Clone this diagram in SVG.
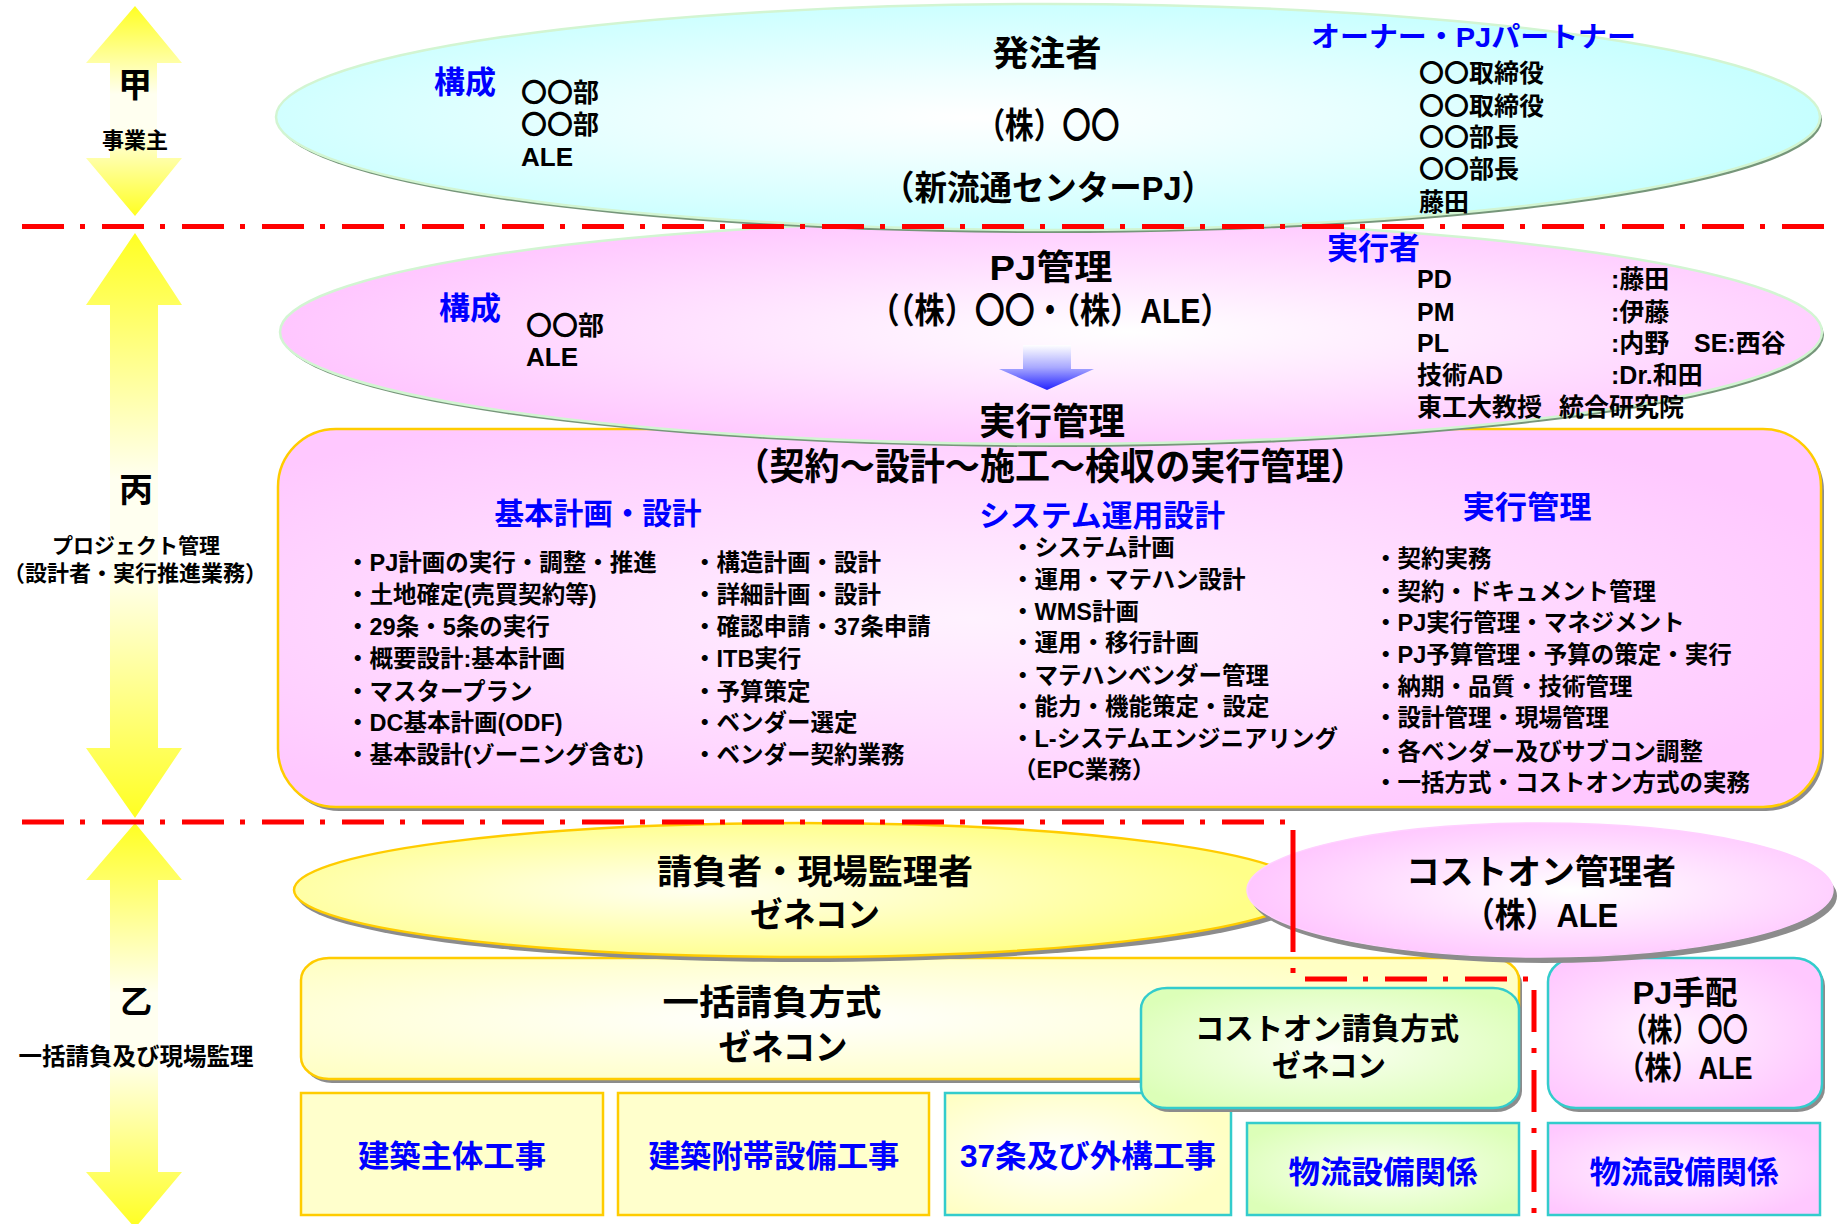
<svg xmlns="http://www.w3.org/2000/svg" width="1839" height="1224" viewBox="0 0 1839 1224">
<defs>
<style>
text{font-family:'Liberation Sans','Noto Sans CJK JP',sans-serif;font-weight:bold;dominant-baseline:central;fill:#000}
.c{text-anchor:middle}
.b{fill:#0000ff}
.s21{font-size:21px}.s22{font-size:22px}.s23{font-size:23.5px}.s25{font-size:25px}.s26{font-size:26px}
.s28{font-size:28px}.s30{font-size:30px}.s31{font-size:31px}.s32{font-size:32px}.s34{font-size:34px}.s35{font-size:35px}.s37{font-size:37px}
.sep{stroke:#ff0000;stroke-width:5;fill:none;stroke-dasharray:42 16 5 17}
.sepS{stroke:#ff0000;stroke-width:5;fill:none}
.shG{fill:#76967a}
.sh{fill:#8c8c8c}
.gold{stroke:#ffcc00;stroke-width:2.5}
.teal{stroke:#33cccc;stroke-width:2.5}
</style>
<linearGradient id="gArrow" x1="0" y1="0" x2="0" y2="1">
<stop offset="0" stop-color="#ffff22"/>
<stop offset="0.42" stop-color="#fffff0"/>
<stop offset="0.58" stop-color="#fffff0"/>
<stop offset="1" stop-color="#ffff22"/>
</linearGradient>
<linearGradient id="gBlue" x1="0" y1="0" x2="0" y2="1">
<stop offset="0" stop-color="#ffffff"/>
<stop offset="0.5" stop-color="#a8a8ff"/>
<stop offset="1" stop-color="#2222ff"/>
</linearGradient>
<radialGradient id="gCyan" cx="0.45" cy="0.5" r="0.55">
<stop offset="0" stop-color="#ffffff"/>
<stop offset="0.3" stop-color="#f0ffff"/>
<stop offset="1" stop-color="#c6ffff"/>
</radialGradient>
<radialGradient id="gPink" cx="0.55" cy="0.5" r="0.55">
<stop offset="0" stop-color="#ffffff"/>
<stop offset="0.3" stop-color="#ffeeff"/>
<stop offset="1" stop-color="#ffc6ff"/>
</radialGradient>
<radialGradient id="gPinkR" cx="0.45" cy="0.5" r="0.6">
<stop offset="0" stop-color="#fff2ff"/>
<stop offset="1" stop-color="#ffc8ff"/>
</radialGradient>
<radialGradient id="gYellowE" cx="0.4" cy="0.5" r="0.55">
<stop offset="0" stop-color="#fffff0"/>
<stop offset="0.35" stop-color="#ffffcc"/>
<stop offset="1" stop-color="#ffff88"/>
</radialGradient>
<radialGradient id="gYellowR" cx="0.4" cy="0.5" r="0.6">
<stop offset="0" stop-color="#ffffff"/>
<stop offset="1" stop-color="#ffffc4"/>
</radialGradient>
<radialGradient id="gGreen" cx="0.5" cy="0.5" r="0.6">
<stop offset="0" stop-color="#fbfff4"/>
<stop offset="1" stop-color="#dcffb8"/>
</radialGradient>
</defs>

<g id="arrow-kou">
<polygon points="135,6 182,63 157,63 157,158 182,158 135,216 86,158 110,158 110,63 86,63" fill="url(#gArrow)"/>
<text class="c s34" x="135" y="85">甲</text>
<text class="c s22" x="135" y="140">事業主</text>
</g>
<g id="arrow-hei">
<polygon points="135,233 182,305 158,305 158,748 182,748 135,818 86,748 110,748 110,305 86,305" fill="url(#gArrow)"/>
<text class="c s34" x="136" y="490">丙</text>
<text class="c s21" x="136" y="545">プロジェクト管理</text>
<text class="c s22" x="135" y="573">（設計者・実行推進業務）</text>
</g>
<g id="arrow-otsu">
<polygon points="135,823 182,880 158,880 158,1172 182,1172 135,1228 86,1172 110,1172 110,880 86,880" fill="url(#gArrow)"/>
<text class="c s32" x="136" y="1002">乙</text>
<text class="c s23" x="136" y="1057">一括請負及び現場監理</text>
</g>

<g id="jikko-kanri-box">
<rect x="281" y="433" width="1543" height="378" rx="58" class="sh"/>
<rect x="278" y="429" width="1543" height="378" rx="58" fill="url(#gPinkR)" class="gold"/>
<text class="c s37" x="1050" y="467" textLength="631" lengthAdjust="spacingAndGlyphs">（契約～設計～施工～検収の実行管理）</text>
<text class="c b s30" x="598" y="513" textLength="207" lengthAdjust="spacingAndGlyphs">基本計画・設計</text>
<text class="c b s30" x="1102" y="515" textLength="246" lengthAdjust="spacingAndGlyphs">システム運用設計</text>
<text class="c b s31" x="1527" y="507" textLength="129" lengthAdjust="spacingAndGlyphs">実行管理</text>
<g class="s23">
<text x="346" y="563">・PJ計画の実行・調整・推進</text>
<text x="346" y="595">・土地確定(売買契約等)</text>
<text x="346" y="627">・29条・5条の実行</text>
<text x="346" y="659">・概要設計:基本計画</text>
<text x="346" y="692">・マスタープラン</text>
<text x="346" y="723">・DC基本計画(ODF)</text>
<text x="346" y="755">・基本設計(ゾーニング含む)</text>
<text x="693" y="563">・構造計画・設計</text>
<text x="693" y="595">・詳細計画・設計</text>
<text x="693" y="627">・確認申請・37条申請</text>
<text x="693" y="659">・ITB実行</text>
<text x="693" y="692">・予算策定</text>
<text x="693" y="723">・ベンダー選定</text>
<text x="693" y="755">・ベンダー契約業務</text>
<text x="1011" y="548">・システム計画</text>
<text x="1011" y="580">・運用・マテハン設計</text>
<text x="1011" y="612">・WMS計画</text>
<text x="1011" y="643">・運用・移行計画</text>
<text x="1011" y="676">・マテハンベンダー管理</text>
<text x="1011" y="707">・能力・機能策定・設定</text>
<text x="1011" y="739">・L-システムエンジニアリング</text>
<text x="1013" y="770">（EPC業務）</text>
<text x="1374" y="559">・契約実務</text>
<text x="1374" y="592">・契約・ドキュメント管理</text>
<text x="1374" y="623">・PJ実行管理・マネジメント</text>
<text x="1374" y="655">・PJ予算管理・予算の策定・実行</text>
<text x="1374" y="687">・納期・品質・技術管理</text>
<text x="1374" y="718">・設計管理・現場管理</text>
<text x="1374" y="752">・各ベンダー及びサブコン調整</text>
<text x="1374" y="783">・一括方式・コストオン方式の実務</text>
</g>
</g>

<g id="pj-kanri">
<ellipse cx="1053" cy="335" rx="771" ry="112" class="shG"/>
<ellipse cx="1051" cy="332" rx="771" ry="112" fill="url(#gPink)" stroke="#d2f5d2" stroke-width="2.5"/>
<text class="b s31" x="439" y="308">構成</text>
<text class="s26" x="526" y="326">〇〇部</text>
<text class="s26" x="526" y="357">ALE</text>
<text class="c s35" x="1051" y="267" textLength="123" lengthAdjust="spacingAndGlyphs">PJ管理</text>
<text class="c s35" x="1050" y="310" textLength="361" lengthAdjust="spacingAndGlyphs">（（株）〇〇・（株）ALE）</text>
<polygon points="1023,345 1071,345 1071,369 1094,369 1047,390 999,369 1023,369" fill="url(#gBlue)"/>
<text class="c s37" x="1052" y="422" textLength="146" lengthAdjust="spacingAndGlyphs">実行管理</text>
<text class="b s31" x="1327" y="248">実行者</text>
<g class="s25">
<text x="1417" y="279">PD</text>
<text x="1417" y="312">PM</text>
<text x="1417" y="343">PL</text>
<text x="1417" y="375">技術AD</text>
<text x="1417" y="407">東工大教授</text>
<text x="1559" y="407">統合研究院</text>
<text x="1611" y="279">:藤田</text>
<text x="1611" y="312">:伊藤</text>
<text x="1611" y="343">:内野</text>
<text x="1694" y="343">SE:西谷</text>
<text x="1611" y="375">:Dr.和田</text>
</g>
</g>

<g id="hacchusha">
<ellipse cx="1050" cy="120" rx="772" ry="113" class="shG"/>
<ellipse cx="1048" cy="117" rx="772" ry="113" fill="url(#gCyan)" stroke="#d2f5d2" stroke-width="2.5"/>
<text class="b s31" x="434" y="82">構成</text>
<text class="s26" x="521" y="93">〇〇部</text>
<text class="s26" x="521" y="125">〇〇部</text>
<text class="s26" x="521" y="157">ALE</text>
<text class="c s35" x="1047" y="53" textLength="109" lengthAdjust="spacingAndGlyphs">発注者</text>
<text class="c s35" x="1048" y="125" textLength="143" lengthAdjust="spacingAndGlyphs">（株）〇〇</text>
<text class="c s34" x="1048" y="188" textLength="332" lengthAdjust="spacingAndGlyphs">（新流通センターPJ）</text>
<text class="b s28" x="1311" y="37" textLength="325" lengthAdjust="spacingAndGlyphs">オーナー・PJパートナー</text>
<g class="s25">
<text x="1419" y="73">〇〇取締役</text>
<text x="1419" y="106">〇〇取締役</text>
<text x="1419" y="137">〇〇部長</text>
<text x="1419" y="169">〇〇部長</text>
<text x="1419" y="202">藤田</text>
</g>
</g>

<g id="kenchiku-shutai">
<rect x="301" y="1093" width="302" height="122" fill="#ffffcc" class="gold"/>
<text class="c b s31" x="452" y="1156" textLength="188" lengthAdjust="spacingAndGlyphs">建築主体工事</text>
</g>
<g id="kenchiku-futai">
<rect x="618" y="1093" width="311" height="122" fill="#ffffcc" class="gold"/>
<text class="c b s31" x="774" y="1156" textLength="251" lengthAdjust="spacingAndGlyphs">建築附帯設備工事</text>
</g>
<g id="gaiko">
<rect x="945" y="1093" width="286" height="122" fill="url(#gYellowR)" class="teal"/>
<text class="c b s31" x="1088" y="1156" textLength="256" lengthAdjust="spacingAndGlyphs">37条及び外構工事</text>
</g>
<g id="butsuryu-green">
<rect x="1247" y="1123" width="272" height="92" fill="url(#gGreen)" class="teal"/>
<text class="c b s31" x="1383" y="1172" textLength="189" lengthAdjust="spacingAndGlyphs">物流設備関係</text>
</g>
<g id="butsuryu-pink">
<rect x="1548" y="1123" width="272" height="92" fill="url(#gPinkR)" class="teal"/>
<text class="c b s31" x="1684" y="1172" textLength="189" lengthAdjust="spacingAndGlyphs">物流設備関係</text>
</g>

<g id="ikkatsu">
<rect x="304" y="962" width="1218" height="121" rx="28" ry="22" class="sh"/>
<rect x="301" y="958" width="1218" height="121" rx="28" ry="22" fill="url(#gYellowR)" class="gold"/>
<text class="c s35" x="772" y="1002" textLength="219" lengthAdjust="spacingAndGlyphs">一括請負方式</text>
<text class="c s35" x="783" y="1047" textLength="129" lengthAdjust="spacingAndGlyphs">ゼネコン</text>
</g>
<g id="coston-ukeoi">
<rect x="1144" y="992" width="378" height="120" rx="26" ry="21" class="sh"/>
<rect x="1141" y="988" width="378" height="120" rx="26" ry="21" fill="url(#gGreen)" class="teal"/>
<text class="c s30" x="1327" y="1028" textLength="264" lengthAdjust="spacingAndGlyphs">コストオン請負方式</text>
<text class="c s30" x="1329" y="1065" textLength="114" lengthAdjust="spacingAndGlyphs">ゼネコン</text>
</g>
<g id="pj-tehai">
<rect x="1551" y="962" width="274" height="150" rx="28" ry="24" class="sh"/>
<rect x="1548" y="958" width="274" height="150" rx="28" ry="24" fill="url(#gPinkR)" class="teal"/>
<text class="c s32" x="1685" y="993" textLength="105" lengthAdjust="spacingAndGlyphs">PJ手配</text>
<text class="c s32" x="1685" y="1030" textLength="126" lengthAdjust="spacingAndGlyphs">（株）〇〇</text>
<text class="c s32" x="1685" y="1068" textLength="135" lengthAdjust="spacingAndGlyphs">（株）ALE</text>
</g>

<g id="ukeoisha">
<ellipse cx="803" cy="895" rx="506" ry="67" class="sh"/>
<ellipse cx="800" cy="890" rx="506" ry="67" fill="url(#gYellowE)" class="gold"/>
<text class="c s34" x="815" y="872" textLength="316" lengthAdjust="spacingAndGlyphs">請負者・現場監理者</text>
<text class="c s34" x="815" y="915" textLength="130" lengthAdjust="spacingAndGlyphs">ゼネコン</text>
</g>
<g id="coston-kanrisha">
<ellipse cx="1544" cy="896" rx="293" ry="67" class="sh"/>
<ellipse cx="1540" cy="890" rx="293" ry="67" fill="url(#gPink)" stroke="#ffd0ff" stroke-width="1.5"/>
<text class="c s34" x="1541" y="872" textLength="270" lengthAdjust="spacingAndGlyphs">コストオン管理者</text>
<text class="c s34" x="1541" y="915" textLength="154" lengthAdjust="spacingAndGlyphs">（株）ALE</text>
</g>

<g id="connectors">
<path class="sep" d="M22 226.5H1826"/>
<path class="sep" d="M22 822H1286"/>
<path class="sepS" d="M1293 830V952M1293 968V973"/>
<path class="sep" d="M1305 979H1528"/>
<path class="sep" d="M1534 990V1226"/>
</g>
</svg>
